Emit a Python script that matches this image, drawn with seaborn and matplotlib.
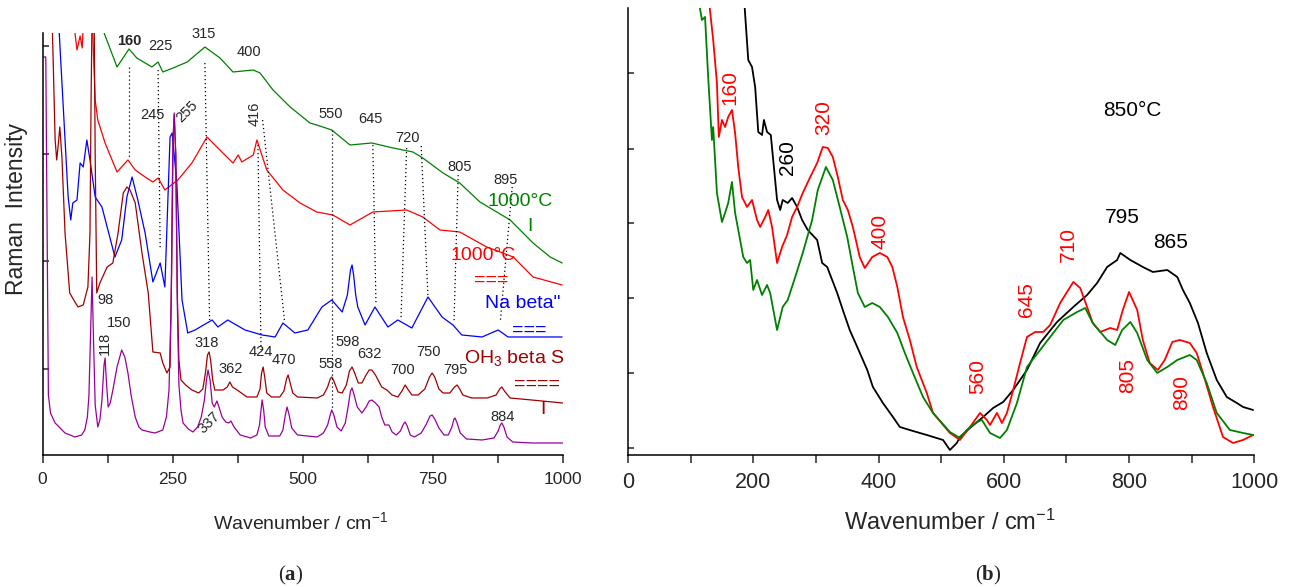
import matplotlib
matplotlib.use("Agg")
import matplotlib.pyplot as plt
from matplotlib.ticker import MultipleLocator
import seaborn as sns

# ---------------- panel (a) spectra (wavenumber, intensity a.u.) ----------------
a_green_x = [105, 143, 166, 181, 210, 222, 231, 251, 278, 312, 341, 366, 405, 418, 443, 476,
             514, 527, 556, 591, 633, 674, 712, 731, 770, 802, 841, 899, 943, 976, 999]
a_green_y = [440, 388, 406, 397, 388, 393, 383, 387, 393, 408, 397, 383, 385, 382, 365, 348,
             332, 330, 325, 310, 312, 307, 303, 297, 282, 272, 253, 235, 212, 198, 192]

a_red_x = [58, 66, 72, 76, 79, 95, 101, 106, 120, 143, 164, 178, 197, 212, 222, 235, 260, 287,
           316, 335, 366, 376, 383, 405, 412, 431, 462, 495, 527, 558, 591, 635, 700, 731, 764,
           802, 854, 905, 943, 999]
a_red_y = [440, 405, 419, 407, 440, 440, 355, 335, 312, 283, 295, 285, 278, 273, 277, 265, 275,
           292, 318, 308, 292, 300, 293, 300, 315, 285, 265, 252, 243, 240, 230, 243, 245, 238,
           225, 223, 208, 198, 178, 170]

a_blue_x = [30, 49, 54, 58, 66, 72, 78, 85, 91, 101, 114, 124, 139, 152, 162, 172, 183, 197, 212,
            226, 235, 245, 249, 258, 268, 279, 293, 326, 337, 356, 389, 422, 447, 462, 485, 510,
            537, 556, 576, 586, 592, 595, 598, 602, 606, 620, 639, 664, 683, 710, 741, 768, 789,
            806, 845, 876, 895, 999]
a_blue_y = [440, 258, 235, 252, 255, 292, 288, 315, 295, 258, 248, 228, 198, 215, 258, 278, 255,
            222, 173, 192, 168, 318, 322, 272, 155, 122, 125, 135, 128, 135, 125, 120, 118, 132,
            122, 125, 148, 155, 143, 160, 185, 190, 180, 160, 148, 130, 148, 128, 135, 127, 158,
            138, 130, 120, 118, 125, 118, 118]

a_dred_x = [18, 24, 27, 29, 33, 37, 43, 49, 52, 62, 68, 78, 87, 91, 93, 95, 99, 101, 104, 110,
            124, 135, 145, 155, 162, 168, 178, 191, 203, 212, 226, 231, 239, 245, 248, 251, 253,
            256, 259, 262, 266, 275, 287, 300, 308, 313, 317, 320, 323, 327, 331, 347, 355, 360,
            365, 374, 393, 412, 418, 421, 424, 427, 431, 440, 456, 464, 469, 472, 476, 481, 490,
            528, 540, 548, 553, 556, 560, 568, 576, 584, 590, 595, 600, 607, 614, 622, 628, 633,
            640, 645, 652, 662, 672, 683, 691, 697, 702, 710, 722, 735, 744, 749, 754, 762, 770,
            783, 792, 797, 802, 808, 825, 855, 872, 879, 883, 888, 899, 940, 1000]
a_dred_y = [440, 315, 295, 305, 328, 298, 222, 182, 162, 153, 148, 150, 168, 222, 350, 440, 440,
            300, 162, 172, 188, 192, 222, 262, 268, 265, 252, 202, 162, 103, 102, 92, 82, 88, 180,
            320, 340, 300, 160, 95, 75, 70, 65, 62, 66, 82, 100, 103, 95, 75, 65, 65, 68, 73, 68,
            65, 58, 58, 66, 82, 88, 78, 62, 58, 58, 64, 76, 80, 72, 62, 58, 57, 60, 68, 76, 78,
            74, 63, 62, 70, 84, 88, 82, 72, 72, 80, 85, 85, 80, 75, 68, 65, 60, 58, 64, 70, 66,
            60, 60, 66, 78, 82, 78, 66, 62, 62, 68, 70, 66, 60, 57, 57, 60, 66, 68, 64, 57, 55,
            52]

a_mag_x = [0, 6, 9, 11, 15, 24, 43, 62, 75, 81, 86, 89, 92, 95, 98, 101, 106, 110, 114, 118, 120,
           123, 126, 130, 135, 143, 152, 158, 164, 170, 178, 185, 191, 206, 216, 231, 238, 243,
           247, 250, 253, 256, 259, 262, 266, 270, 280, 289, 298, 305, 311, 315, 318, 322, 326,
           330, 335, 339, 345, 352, 358, 362, 368, 380, 400, 412, 417, 420, 422, 425, 428, 435,
           456, 462, 466, 470, 474, 479, 490, 528, 540, 548, 553, 556, 560, 566, 574, 582, 588,
           592, 595, 599, 605, 614, 622, 628, 633, 640, 647, 652, 658, 666, 672, 680, 688, 694,
           697, 701, 707, 715, 728, 738, 745, 749, 754, 762, 772, 780, 787, 791, 793, 797, 803,
           815, 845, 868, 876, 880, 883, 887, 893, 904, 940, 1000]
a_mag_y = [398, 398, 200, 60, 42, 32, 22, 18, 20, 25, 38, 60, 120, 178, 110, 50, 28, 35, 55, 90,
           97, 70, 48, 52, 65, 88, 105, 98, 82, 60, 38, 28, 25, 23, 22, 25, 38, 65, 150, 300, 342,
           300, 150, 70, 45, 32, 26, 23, 28, 38, 55, 75, 85, 75, 52, 48, 54, 48, 38, 33, 32, 34,
           28, 20, 17, 20, 30, 45, 55, 45, 28, 19, 19, 25, 38, 48, 40, 27, 20, 18, 22, 30, 40, 45,
           40, 28, 24, 32, 50, 64, 67, 60, 48, 42, 48, 54, 55, 52, 48, 38, 30, 30, 23, 20, 24, 31,
           33, 29, 20, 18, 22, 31, 39, 40, 36, 27, 20, 20, 28, 36, 37, 32, 22, 16, 15, 17, 24, 30,
           32, 28, 18, 13, 12, 12]

# dotted guides joining the same band in different spectra
guide_x0 = [166, 222, 312, 414, 423, 556, 635, 700, 728, 799, 903]
guide_y0 = [388, 385, 392, 310, 335, 325, 310, 307, 309, 280, 268]
guide_x1 = [166, 226, 321, 420, 465, 556, 641, 689, 741, 791, 880]
guide_y1 = [298, 205, 135, 105, 135, 47, 150, 135, 158, 132, 133]

# ---------------- panel (b) spectra ----------------
b_black_x = [186, 192, 198, 203, 208, 214, 217, 222, 228, 238, 243, 247, 255, 262, 270, 278, 287,
             302, 310, 318, 334, 343, 354, 366, 382, 391, 407, 423, 434, 455, 477, 503, 514, 525,
             530, 546, 567, 583, 599, 615, 637, 658, 685, 711, 733, 749, 765, 781, 786, 802, 822,
             838, 861, 877, 886, 897, 910, 924, 940, 956, 972, 982, 998]
b_black_y = [450, 395, 388, 368, 323, 320, 335, 323, 320, 255, 245, 255, 252, 257, 248, 235, 225,
             215, 192, 188, 162, 145, 125, 108, 85, 68, 52, 38, 28, 24, 20, 15, 5, 12, 18, 27, 38,
             47, 53, 65, 85, 112, 133, 148, 160, 172, 188, 195, 202, 195, 188, 183, 185, 178, 165,
             152, 132, 102, 75, 58, 52, 48, 45]

b_red_x = [130, 136, 142, 145, 150, 155, 160, 166, 171, 176, 182, 190, 198, 206, 211, 219, 224,
           230, 238, 246, 254, 262, 270, 279, 291, 302, 311, 319, 327, 335, 343, 351, 359, 370,
           378, 390, 402, 414, 422, 430, 439, 450, 461, 477, 487, 514, 530, 546, 562, 573, 578,
           589, 597, 605, 615, 626, 637, 650, 663, 674, 690, 703, 711, 722, 733, 742, 754, 770,
           781, 790, 800, 813, 822, 833, 846, 857, 869, 881, 897, 908, 918, 934, 950, 966, 982,
           998]
b_red_y = [450, 415, 372, 318, 335, 328, 338, 345, 322, 288, 258, 248, 255, 235, 228, 238, 245,
           228, 192, 208, 220, 238, 248, 262, 278, 292, 308, 307, 298, 278, 255, 245, 228, 198,
           187, 198, 202, 198, 188, 168, 138, 115, 88, 62, 42, 22, 15, 28, 42, 35, 30, 42, 32, 42,
           65, 92, 118, 123, 123, 130, 152, 165, 173, 167, 148, 132, 123, 127, 125, 145, 163, 145,
           115, 92, 85, 95, 113, 115, 112, 102, 82, 48, 18, 12, 15, 20]

b_green_x = [114, 118, 123, 128, 134, 136, 142, 150, 155, 160, 166, 171, 179, 184, 190, 195, 200,
             206, 214, 222, 227, 238, 247, 255, 267, 279, 294, 303, 316, 327, 338, 350, 359, 367,
             378, 390, 402, 415, 430, 442, 455, 471, 487, 514, 530, 541, 557, 565, 578, 594, 605,
             621, 637, 658, 674, 695, 717, 730, 742, 765, 778, 789, 802, 813, 829, 845, 861, 877,
             897, 908, 924, 940, 961, 982, 998]
b_green_y = [450, 435, 438, 378, 315, 328, 262, 233, 242, 252, 273, 242, 215, 198, 192, 195, 165,
             175, 160, 170, 162, 125, 148, 155, 178, 202, 235, 265, 288, 275, 248, 218, 188, 162,
             148, 152, 148, 138, 122, 102, 82, 58, 42, 23, 17, 25, 33, 35, 22, 17, 25, 52, 88, 105,
             118, 135, 143, 147, 132, 115, 110, 125, 133, 122, 95, 82, 88, 95, 100, 95, 72, 42, 25,
             22, 20]

GREEN, RED, BLUE, DRED, MAG = "#008000", "#ff0000", "#0000ff", "#a00000", "#990099"

sns.set_style("ticks")
plt.rcParams["font.family"] = ["Liberation Sans", "DejaVu Sans"]
plt.rcParams["mathtext.fontset"] = "custom"
plt.rcParams["mathtext.rm"] = "Liberation Sans"
plt.rcParams["mathtext.it"] = "Liberation Sans:italic"
plt.rcParams["mathtext.bf"] = "Liberation Serif:bold"

fig = plt.figure(figsize=(12.89, 5.87), dpi=100)
ax_a = fig.add_axes([0.0331, 0.2249, 0.4034, 0.7189])
ax_b = fig.add_axes([0.4872, 0.2249, 0.4859, 0.7615])

# ===== panel (a) =====
for xs, ys, col in [(a_green_x, a_green_y, GREEN), (a_red_x, a_red_y, RED),
                    (a_blue_x, a_blue_y, BLUE), (a_dred_x, a_dred_y, DRED),
                    (a_mag_x, a_mag_y, MAG)]:
    sns.lineplot(x=xs, y=ys, ax=ax_a, color=col, lw=0.9, sort=False, estimator=None)

for x0, x1, y0, y1 in zip(guide_x0, guide_x1, guide_y0, guide_y1):
    ax_a.plot([x0, x1], [y0, y1], color="black", ls=(0, (1, 2.2)), lw=0.9)

ax_a.set_xlim(0, 1000)
ax_a.set_ylim(0, 422)
ax_a.xaxis.set_major_locator(MultipleLocator(250))
ax_a.xaxis.set_minor_locator(MultipleLocator(125))
ax_a.set_yticks([86, 193.5, 301, 408.5])
ax_a.set_yticklabels([])
ax_a.tick_params(axis="x", which="both", direction="out", length=6, width=1.1,
                 labelsize=12.5, pad=6)
ax_a.tick_params(axis="y", direction="in", length=4, width=1.1)

peak_a = [("160", 166, 414, 0), ("225", 227, 409, 0), ("315", 310, 421, 0),
          ("400", 397, 403, 0), ("245", 211, 340, 0), ("255", 277, 343, 45),
          ("416", 408, 341, 90), ("550", 553, 341, 0), ("645", 631, 336, 0),
          ("720", 702, 317, 0), ("805", 802, 288, 0), ("895", 891, 275, 0),
          ("98", 120, 155, 0), ("150", 147, 132, 0), ("118", 120, 112, 90),
          ("318", 316, 112, 0), ("362", 361, 86, 0), ("424", 419, 103, 0),
          ("470", 464, 95, 0), ("558", 554, 91, 0), ("598", 587, 113, 0),
          ("632", 628, 101, 0), ("700", 693, 85, 0), ("750", 742, 103, 0),
          ("795", 794, 85, 0), ("884", 885, 38, 0), ("337", 320, 32, 45)]
for txt, x, y, rot in peak_a:
    ax_a.text(x, y, txt, fontsize=10.5, rotation=rot, ha="center", va="center",
              fontweight="bold" if txt == "160" else "normal", clip_on=False)

names_a = [("1000°C", 918, 253, GREEN), ("I", 937, 228, GREEN),
           ("1000°C", 847, 199, RED), ("===", 862, 175, RED),
           ('Na beta"', 924, 151, BLUE), ("===", 935, 125, BLUE),
           ("OH$_3$ beta S", 906, 97, DRED), ("====", 950, 71, DRED),
           ("I", 963, 45, DRED)]
for txt, x, y, col in names_a:
    ax_a.text(x, y, txt, fontsize=14, color=col, ha="center", va="center", clip_on=False)

fig.text(17 / 1289, 1 - 209 / 587, "Raman  Intensity", rotation=90, fontsize=16.5,
         ha="center", va="center")
fig.text(301 / 1289, 1 - 522 / 587, "Wavenumber / cm$^{-1}$", fontsize=14,
         ha="center", va="center")
fig.text(291 / 1289, 1 - 575 / 587, r"($\mathbf{a}$)", fontsize=15,
         family="Liberation Serif", ha="center", va="center")

# ===== panel (b) =====
for xs, ys, col in [(b_black_x, b_black_y, "black"), (b_red_x, b_red_y, RED),
                    (b_green_x, b_green_y, GREEN)]:
    sns.lineplot(x=xs, y=ys, ax=ax_b, color=col, lw=1.3, sort=False, estimator=None)

ax_b.set_xlim(0, 1000)
ax_b.set_ylim(0, 447)
ax_b.xaxis.set_major_locator(MultipleLocator(200))
ax_b.xaxis.set_minor_locator(MultipleLocator(100))
ax_b.set_yticks([7, 82, 157, 232, 306, 382])
ax_b.set_yticklabels([])
ax_b.tick_params(axis="x", which="both", direction="out", length=6, width=1.1,
                 labelsize=15.5, pad=6)
ax_b.tick_params(axis="y", direction="in", length=4, width=1.1)

peak_b = [("160", 163, 367, 90, RED), ("320", 312, 337, 90, RED),
          ("400", 402, 224, 90, RED), ("260", 255, 297, 90, "black"),
          ("850°C", 805, 344, 0, "black"), ("795", 790, 237, 0, "black"),
          ("865", 867, 212, 0, "black"), ("710", 703, 210, 90, RED),
          ("645", 637, 155, 90, RED), ("560", 559, 78, 90, RED),
          ("805", 798, 79, 90, RED), ("890", 884, 62, 90, RED)]
for txt, x, y, rot, col in peak_b:
    ax_b.text(x, y, txt, fontsize=15, rotation=rot, color=col, ha="center", va="center")

fig.text(950 / 1289, 1 - 522 / 587, "Wavenumber / cm$^{-1}$", fontsize=17,
         ha="center", va="center")
fig.text(988 / 1289, 1 - 575 / 587, r"($\mathbf{b}$)", fontsize=15,
         family="Liberation Serif", ha="center", va="center")

for ax in (ax_a, ax_b):
    sns.despine(ax=ax)
    for s in ("left", "bottom"):
        ax.spines[s].set_linewidth(1.1)
        ax.spines[s].set_color("black")
    ax.set_xlabel("")
    ax.set_ylabel("")

fig.savefig("out.png", dpi=100)
